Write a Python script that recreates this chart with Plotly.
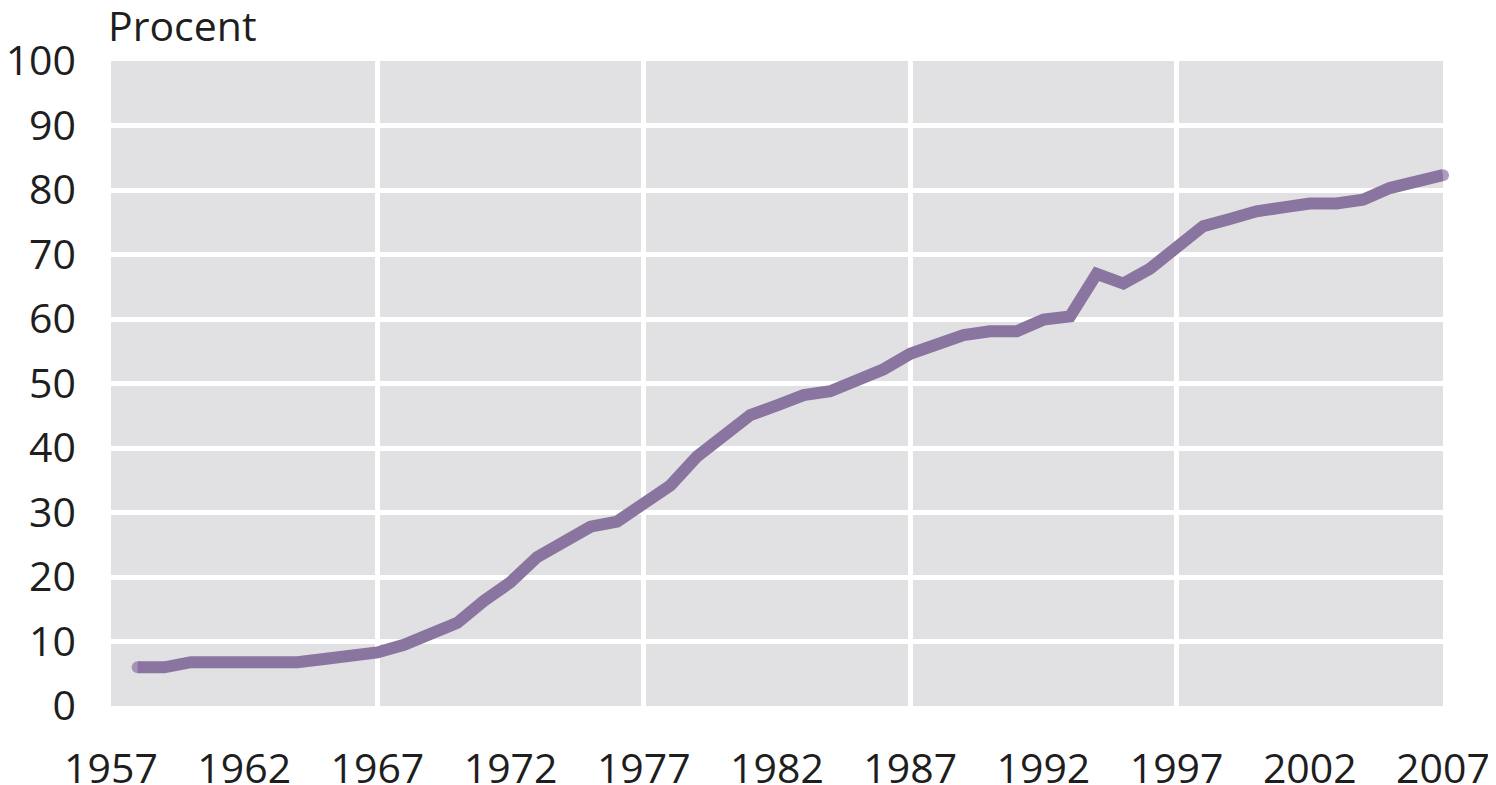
import plotly.graph_objects as go

years = list(range(1958, 2008))
procent = [6.0, 6.0, 6.8, 6.8, 6.8, 6.8, 6.8, 7.3, 7.8, 8.3,
           9.5, 11.1, 12.9, 16.3, 19.2, 23.1, 25.5, 27.8, 28.6, 31.2,
           34.2, 38.7, 42.2, 45.1, 46.6, 48.2, 48.8, 50.4, 52.2, 54.6,
           56.3, 57.5, 58.1, 58.1, 59.9, 60.4, 67.0, 65.5, 67.8, 71.1,
           74.4, 75.5, 76.7, 77.3, 77.9, 77.9, 78.5, 80.3, 81.3, 82.3]

x_ticks = [1957, 1962, 1967, 1972, 1977, 1982, 1987, 1992, 1997, 2002, 2007]
x_grid = [1967, 1977, 1987, 1997]
y_ticks = [0, 10, 20, 30, 40, 50, 60, 70, 80, 90, 100]
y_title = "Procent"

FONT = "Open Sans"
TXT = "#1e1e1e"
FS = 41
LINE_COLOR = "#8a74a0"
LW = 12

# round caps only at both ends of the line
cap_sizes = [LW] + [0] * (len(years) - 2) + [LW]

fig = go.Figure()
fig.add_trace(go.Scatter(
    x=years, y=procent, mode="lines+markers",
    line=dict(color=LINE_COLOR, width=LW, shape="linear"),
    marker=dict(color=LINE_COLOR, size=cap_sizes, line=dict(width=0)),
    cliponaxis=False,
    hoverinfo="x+y", showlegend=False,
))

# page body has an 8px margin, so the figure is sized/placed to compensate
fig.update_layout(
    width=1488, height=777,
    margin=dict(l=103, r=53, t=53, b=79, autoexpand=False),
    paper_bgcolor="white",
    plot_bgcolor="#e1e1e3",
    font=dict(family=FONT, size=FS, color=TXT),
    xaxis=dict(
        range=[1957, 2007],
        tickvals=x_ticks,
        ticktext=[str(v) for v in x_ticks],
        showgrid=False,
        zeroline=False,
        showline=False,
        ticks="",
        automargin=False,
        ticklabelstandoff=35,
        minor=dict(tickvals=x_grid, showgrid=True, gridcolor="white", gridwidth=5, ticks=""),
        tickfont=dict(family=FONT, size=FS, color=TXT),
    ),
    yaxis=dict(
        range=[0, 100],
        tickvals=y_ticks,
        showgrid=True,
        gridcolor="white",
        gridwidth=5,
        zeroline=False,
        showline=False,
        ticks="",
        automargin=False,
        ticklabelstandoff=34,
        tickfont=dict(family=FONT, size=FS, color=TXT),
    ),
    annotations=[dict(
        text=y_title, xref="paper", yref="paper",
        x=-0.004, y=1.010, xanchor="left", yanchor="bottom",
        showarrow=False, font=dict(family=FONT, size=FS, color=TXT),
    )],
)

fig.write_html("out.html")
